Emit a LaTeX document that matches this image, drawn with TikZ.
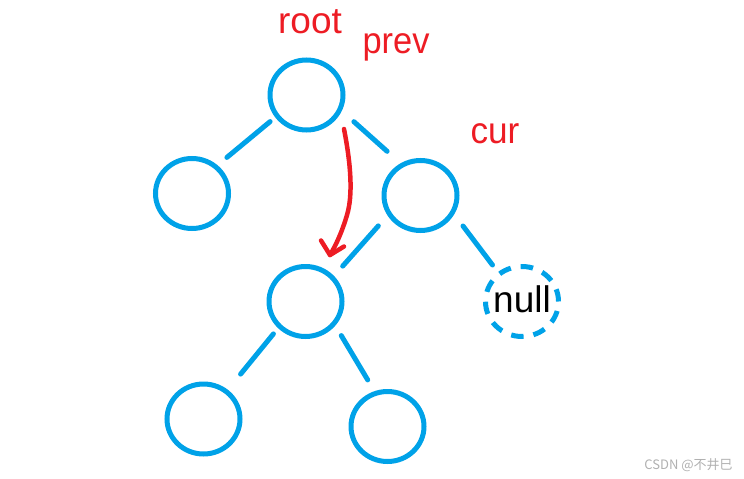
\documentclass[tikz,border=0pt]{standalone}
\usepackage{fontspec}
\setmainfont{Liberation Sans}
\newfontfamily\cjkwm{Noto Sans CJK SC}
\usetikzlibrary{shapes.geometric,calc}
\definecolor{treeblue}{RGB}{0,162,232}
\definecolor{markred}{RGB}{237,28,36}
\definecolor{wmgray}{RGB}{176,176,176}
\tikzset{
  treenode/.style={ellipse,draw=treeblue,line width=5pt,minimum width=73pt,minimum height=70pt,inner sep=0pt},
  nullnode/.style={treenode,dash pattern=on 12.5pt off 10pt},
  edge/.style={draw=treeblue,line width=5pt,line cap=round},
  redmark/.style={draw=markred,line width=4.5pt,line cap=round,line join=round},
  lbl/.style={text=markred,font=\fontsize{37}{40}\selectfont,anchor=base,inner sep=0pt},
  nulltxt/.style={text=black,font=\fontsize{37}{40}\selectfont,anchor=base,inner sep=0pt}
}
\begin{document}
\begin{tikzpicture}[x=1pt,y=-1pt]
\useasboundingbox (0,0) rectangle (744,479);
% nodes
\node[treenode] (root) at (306.5,95) {};
\node[treenode] (L) at (192,193.5) {};
\node[treenode] (R) at (420.5,195.5) {};
\node[treenode] (mid) at (305.5,301.5) {};
\node[nullnode] (nul) at (522,301.5) {};
\node[treenode] (BL) at (203.5,419) {};
\node[treenode] (BR) at (387.5,426.5) {};
% labels
\node[lbl] (troot) at (310,33) {root};
\node[lbl,xscale=0.93] (tprev) at (396,53) {prev};
\node[lbl,xscale=0.95] (tcur) at (495,143) {cur};
\node[nulltxt] (tnull) at (522,312) {null};
% edges
\draw[edge] ($(root)+(-36.4,26.6)$) -- ($(L)+(34.9,-36.1)$);
\draw[edge] ($(root)+(47.4,26.7)$) -- ($(R)+(-33.4,-44.2)$);
\draw[edge] ($(R)+(-42.2,30.4)$) -- ($(mid)+(37.2,-35.4)$);
\draw[edge] ($(R)+(42.5,30.5)$) -- ($(nul)+(-29.5,-36.5)$);
\draw[edge] ($(mid)+(-32.1,32.4)$) -- ($(BL)+(37.1,-44.9)$);
\draw[edge] ($(mid)+(35.8,34.1)$) -- ($(BR)+(-19.8,-46.6)$);
% red arrow from prev/root toward mid
\coordinate (arrS) at ($(root)+(37.5,34)$);
\coordinate (arrT) at ($(mid)+(24.5,-46.5)$);
\draw[redmark] (arrS) .. controls (351,165) and (353,195) .. (347,215)
  .. controls (342,232) and (336,245) .. (arrT);
\draw[redmark] ($(arrT)+(-9,-14.5)$) -- (arrT) -- ($(arrT)+(14,-8.5)$);
% watermark
\node[text=wmgray,font=\cjkwm\fontsize{13}{15}\selectfont,anchor=base,inner sep=0pt] (wm) at (688.5,469) {CSDN @不井巳};
\end{tikzpicture}
\end{document}
